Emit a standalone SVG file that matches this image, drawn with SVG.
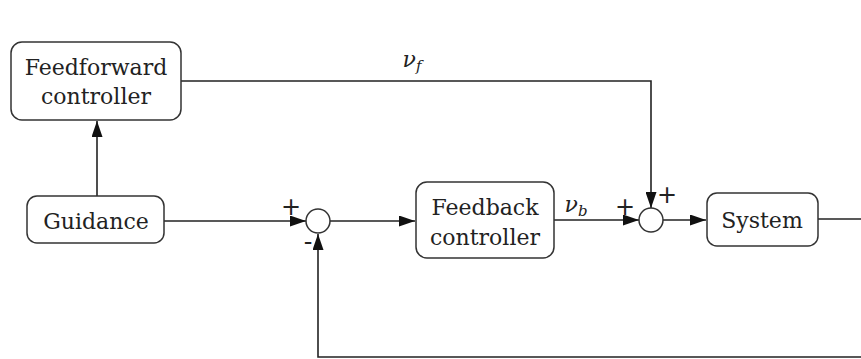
<svg xmlns="http://www.w3.org/2000/svg" width="861" height="359" viewBox="0 0 861 359">
<style>
.box{fill:#fff;stroke:#333;stroke-width:1.5}
.t{font-family:'DejaVu Serif','Liberation Serif',serif;font-size:22px;fill:#222;text-anchor:middle}
.s{font-family:'DejaVu Serif','Liberation Serif',serif;font-size:22px;fill:#222;text-anchor:middle}
.p{font-family:'DejaVu Sans','Liberation Sans',sans-serif;font-size:24px;fill:#222;text-anchor:middle}
.w{fill:none;stroke:#222;stroke-width:1.6}
.sum{fill:#fff;stroke:#333;stroke-width:1.5}
</style>
<defs>
<marker id="ar" viewBox="0 0 16 11" refX="16" refY="5.5" markerWidth="16" markerHeight="11" markerUnits="userSpaceOnUse" orient="auto">
<path d="M0,0 L16,5.5 L0,11 Z" fill="#111"/>
</marker>
</defs>
<g id="connectors">
<path class="w" d="M97,196 V121" marker-end="url(#ar)"/>
<path class="w" d="M181,81 H651 V208" marker-end="url(#ar)"/>
<path class="w" d="M164,221 H306" marker-end="url(#ar)"/>
<path class="w" d="M330,221 H415" marker-end="url(#ar)"/>
<path class="w" d="M554,220 H639" marker-end="url(#ar)"/>
<path class="w" d="M663,220 H706" marker-end="url(#ar)"/>
<path class="w" d="M818,219 H861"/>
<path class="w" d="M861,357 H318 V234" marker-end="url(#ar)"/>
<text class="s" x="412" y="67" font-style="italic">ν<tspan font-size="15" dy="4">f</tspan></text>
<text class="s" x="576" y="212" font-style="italic">ν<tspan font-size="15" dy="4">b</tspan></text>
<text class="p" x="291" y="215">+</text>
<text class="p" x="308" y="250">-</text>
<text class="p" x="625" y="215">+</text>
<text class="p" x="667" y="203">+</text>
</g>
<g id="feedforward">
<rect class="box" x="11" y="42" width="170" height="78" rx="11"/>
<text class="t" x="96" y="75">Feedforward</text>
<text class="t" x="96" y="104">controller</text>
</g>
<g id="guidance">
<rect class="box" x="27" y="196" width="137" height="47" rx="10"/>
<text class="t" x="96" y="229">Guidance</text>
</g>
<g id="sum1">
<circle class="sum" cx="318" cy="221" r="12"/>
</g>
<g id="feedback">
<rect class="box" x="416" y="182" width="138" height="76" rx="11"/>
<text class="t" x="485" y="215">Feedback</text>
<text class="t" x="485" y="245">controller</text>
</g>
<g id="sum2">
<circle class="sum" cx="651" cy="220" r="12"/>
</g>
<g id="system">
<rect class="box" x="707" y="193" width="111" height="53" rx="10"/>
<text class="t" x="762" y="228">System</text>
</g>
</svg>
